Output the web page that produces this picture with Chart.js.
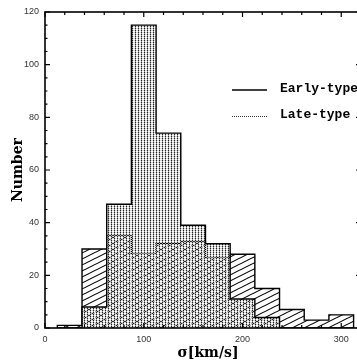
<!DOCTYPE html>
<html>
<head>
<meta charset="utf-8">
<script src="https://cdn.jsdelivr.net/npm/chart.js@4"></script>
<style>
  html, body { margin: 0; padding: 0; background: #fff; overflow: hidden; }
  #wrap { width: 362px; height: 362px; }
</style>
</head>
<body>
<div id="wrap"><canvas id="histo" width="362" height="362"></canvas></div>
<script>
// datos del histograma (centros de los bins, ancho 25 km/s)
const binCenters = [25, 50, 75, 100, 125, 150, 175, 200, 225, 250, 275, 300];
const binWidth = 25;
const earlyType = [1, 30, 35, 28, 32, 33, 27, 28, 15, 7, 3, 5];
const lateType  = [0, 8, 47, 115, 74, 39, 32, 11, 4, 0, 0, 0];

// etiquetas de los ejes
const xTicks = [0, 100, 200, 300];
const yTicks = [0, 20, 40, 60, 80, 100, 120];
const seriesNames = ['Early-type', 'Late-type'];

// contorno escalonado del histograma a partir de los bins
function stepPoints(values) {
    const pts = [{ x: binCenters[0] - binWidth / 2, y: 0 }];
    values.forEach((v, i) => {
        pts.push({ x: binCenters[i] - binWidth / 2, y: v });
        pts.push({ x: binCenters[i] + binWidth / 2, y: v });
    });
    pts.push({ x: binCenters[binCenters.length - 1] + binWidth / 2, y: 0 });
    return pts;
}

// rayado diagonal para Early-type
function hatchPattern() {
    const c = document.createElement('canvas');
    c.width = 12; c.height = 6;
    const g = c.getContext('2d');
    g.strokeStyle = '#000';
    g.lineWidth = 1.1;
    for (let k = -1; k <= 1; k++) {
        g.beginPath();
        g.moveTo(-12, 12 + k * 6);
        g.lineTo(24, -6 + k * 6);
        g.stroke();
    }
    return g.createPattern(c, 'repeat');
}

// punteado fino para Late-type
function dotPattern() {
    const c = document.createElement('canvas');
    c.width = 3; c.height = 2;
    const g = c.getContext('2d');
    g.fillStyle = '#222'; g.fillRect(0, 0, 1, 1);
    g.fillStyle = '#999'; g.fillRect(0, 1, 1, 1);
    g.fillStyle = '#d6d6d6'; g.fillRect(1, 0, 2, 1);
    return g.createPattern(c, 'repeat');
}

// marco con marcas hacia dentro, títulos y leyenda
const framePlugin = {
    id: 'frame',
    afterDraw(chart) {
        const { ctx, chartArea: a, scales: { x, y } } = chart;
        ctx.save();
        ctx.strokeStyle = '#000';
        ctx.lineWidth = 1.6;
        ctx.strokeRect(a.left, a.top, a.right - a.left, a.bottom - a.top);

        ctx.lineWidth = 1.2;
        ctx.beginPath();
        for (let v = 0; v <= 120; v += 5) {
            const py = y.getPixelForValue(v);
            const len = v % 20 === 0 ? 5 : 2.5;
            ctx.moveTo(a.left, py); ctx.lineTo(a.left + len, py);
            ctx.moveTo(a.right, py); ctx.lineTo(a.right - len, py);
        }
        for (let v = 0; v <= 320; v += 20) {
            const px = x.getPixelForValue(v);
            const len = v % 100 === 0 ? 5 : 3;
            ctx.moveTo(px, a.top); ctx.lineTo(px, a.top + len);
            ctx.moveTo(px, a.bottom); ctx.lineTo(px, a.bottom - len);
        }
        ctx.stroke();

        // títulos de los ejes
        ctx.fillStyle = '#000';
        ctx.font = 'bold 14px "DejaVu Serif"';
        ctx.textAlign = 'center';
        ctx.textBaseline = 'alphabetic';
        ctx.fillText('σ[km/s]', 208, 357);
        ctx.save();
        ctx.translate(22, 170);
        ctx.rotate(-Math.PI / 2);
        ctx.fillText('Number', 0, 0);
        ctx.restore();

        // leyenda
        ctx.font = 'bold 13px "Liberation Mono"';
        ctx.textAlign = 'left';
        ctx.lineWidth = 1.3;
        ctx.beginPath();
        ctx.moveTo(232, 90); ctx.lineTo(267, 90);
        ctx.stroke();
        ctx.fillText(seriesNames[0], 280, 92);
        ctx.fillStyle = '#333';
        for (let px = 232; px < 267; px += 2) ctx.fillRect(px, 116, 1, 1);
        ctx.fillStyle = '#000';
        ctx.fillText(seriesNames[1], 280, 118);
        ctx.restore();
    }
};

const ctx = document.getElementById('histo').getContext('2d');
new Chart(ctx, {
    type: 'line',
    data: {
        datasets: [
            {
                label: seriesNames[1],
                data: stepPoints(lateType),
                borderColor: '#000',
                borderWidth: 1.4,
                backgroundColor: dotPattern(),
                fill: 'origin',
                pointRadius: 0,
                tension: 0,
                order: 1
            },
            {
                label: seriesNames[0],
                data: stepPoints(earlyType),
                borderColor: '#000',
                borderWidth: 1.4,
                backgroundColor: hatchPattern(),
                fill: 'origin',
                pointRadius: 0,
                tension: 0,
                order: 2
            }
        ]
    },
    options: {
        responsive: false,
        animation: false,
        layout: { padding: { left: 0, top: 12, right: 1, bottom: 0 } },
        plugins: { legend: { display: false }, tooltip: { enabled: false } },
        scales: {
            x: {
                type: 'linear',
                min: 0,
                max: 320,
                afterBuildTicks: s => { s.ticks = xTicks.map(v => ({ value: v })); },
                afterFit: s => { s.height = 34; },
                grid: { display: false, drawTicks: false },
                border: { display: false },
                ticks: { padding: 6, color: '#333', font: { family: 'Liberation Sans', size: 9 } }
            },
            y: {
                min: 0,
                max: 120,
                afterBuildTicks: s => { s.ticks = yTicks.map(v => ({ value: v })); },
                afterFit: s => { s.width = 45; },
                grid: { display: false, drawTicks: false },
                border: { display: false },
                ticks: { padding: 6, color: '#333', font: { family: 'Liberation Sans', size: 9 } }
            }
        }
    },
    plugins: [framePlugin]
});
</script>
</body>
</html>
